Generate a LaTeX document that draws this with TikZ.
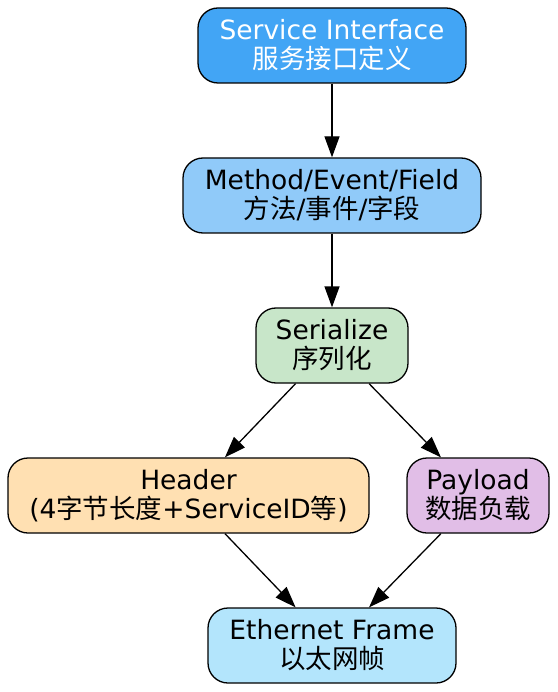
\documentclass[tikz,border=0pt]{standalone}
\usepackage{fontspec}
\setmainfont{DejaVu Sans}
\newfontfamily\cjk{Noto Sans CJK SC}
\usetikzlibrary{arrows.meta}
\newcommand{\zh}[1]{{\cjk #1}}

\definecolor{ifblue}{HTML}{42A5F5}
\definecolor{mefblue}{HTML}{90CAF9}
\definecolor{sergreen}{HTML}{C8E6C9}
\definecolor{hdrorange}{HTML}{FFE0B2}
\definecolor{plpurple}{HTML}{E1BEE7}
\definecolor{ethcyan}{HTML}{B3E5FC}

\begin{document}
\begin{tikzpicture}[x=1pt,y=-1pt,
  box/.style={draw=black,line width=1.3pt,rounded corners=20pt,minimum height=75pt,inner sep=0pt,align=center,font=\fontsize{26.5}{29}\selectfont},
  flow/.style={-{Triangle[length=21pt,width=15pt]},line width=1.3pt}]
\useasboundingbox (0,0) rectangle (557,692);

\node[box,fill=ifblue,text=white,minimum width=268pt] (iface) at (332,45.5) {Service Interface\\\zh{服务接口定义}};
\node[box,fill=mefblue,minimum width=298pt] (mef) at (332,195.5) {Method/Event/Field\\\zh{方法}/\zh{事件}/\zh{字段}};
\node[box,fill=sergreen,minimum width=152pt] (ser) at (332,345.5) {Serialize\\\zh{序列化}};
\node[box,fill=hdrorange,minimum width=361pt] (hdr) at (188.5,495.5) {Header\\(4\zh{字节长度}+ServiceID\zh{等})};
\node[box,fill=plpurple,minimum width=142pt] (pl) at (478,495.5) {Payload\\\zh{数据负载}};
\node[box,fill=ethcyan,minimum width=248pt] (eth) at (332,645.5) {Ethernet Frame\\\zh{以太网帧}};

\draw[flow] (iface) -- (mef);
\draw[flow] (mef) -- (ser);
\draw[flow] (ser) -- (hdr);
\draw[flow] (ser) -- (pl);
\draw[flow] (hdr) -- (eth);
\draw[flow] (pl) -- (eth);

\end{tikzpicture}
\end{document}
